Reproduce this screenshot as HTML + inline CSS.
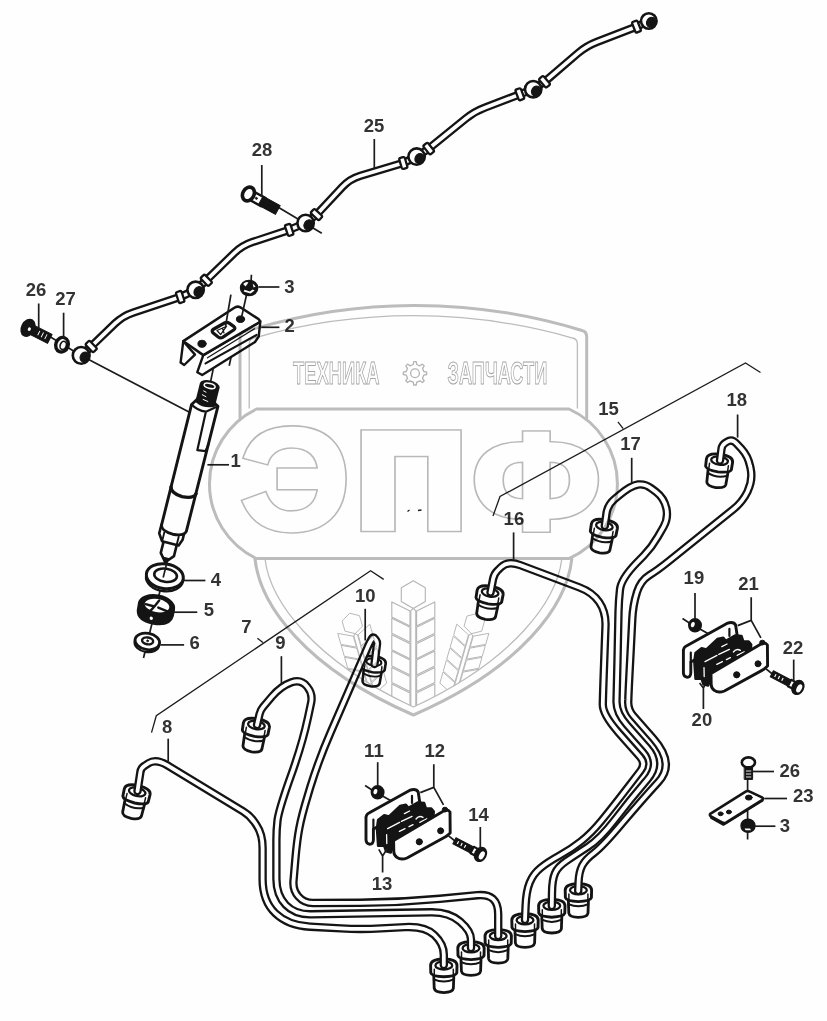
<!DOCTYPE html>
<html lang="ru"><head><meta charset="utf-8"><title>Схема</title>
<style>
html,body{margin:0;padding:0;background:#fefefe;}
body{width:827px;height:1021px;overflow:hidden;font-family:"Liberation Sans",sans-serif;}
svg{display:block;position:absolute;left:0;top:0;}
text{font-family:"Liberation Sans",sans-serif;font-weight:bold;}
.wm{fill:none;stroke:#bdbdbd;stroke-linejoin:round;stroke-linecap:round;}
.k{fill:none;stroke:#141414;stroke-linecap:round;stroke-linejoin:round;}
.kw{fill:#fefefe;stroke:#141414;stroke-linecap:round;stroke-linejoin:round;}
.kf{fill:#141414;stroke:#141414;stroke-linecap:round;stroke-linejoin:round;}
.to{fill:none;stroke:#141414;stroke-linecap:round;stroke-linejoin:round;}
.ti{fill:none;stroke:#fefefe;stroke-linecap:round;stroke-linejoin:round;}
.ld{fill:none;stroke:#1c1c1c;stroke-width:1.7;stroke-linecap:butt;}
.th{fill:none;stroke:#1c1c1c;stroke-width:1.3;}
.n{font-size:18.5px;fill:#333;text-anchor:middle;}
</style></head><body>
<svg width="827" height="1021" viewBox="0 0 827 1021" role="img" aria-label="Схема">
<path class="th" d="M151.5,732.6 L156.3,715.7 L370.6,570.7 L383.7,579.4"/>
<path class="th" d="M257.4,638.2 L262.9,642.5"/>
<path class="th" d="M493,516 L500,496.5 L745.5,363 L760.5,372.5"/>
<path class="th" d="M617.9,421.9 L623.2,428.6"/>
<path class="th" stroke-width="0.9" d="M407.5,511.5 L409.5,510 M418,510.5 L421.5,510"/>
<g transform="translate(137.3,791.3) rotate(13) scale(1)">
<path class="kw" stroke-width="2.8" d="M-10.2,6 L-9.6,23.5 Q-9,27.5 0,27.8 Q9,27.5 9.6,23.5 L10.2,6 Z"/>
<path class="k" stroke-width="2" d="M-10,14.5 Q0,19 10,14.5"/>
<path class="kw" stroke-width="2.9" d="M-13.2,0.5 Q-13,-5.6 0,-5.8 Q13,-5.6 13.2,0.5 L13,8 Q12,11.5 0,12 Q-12,11.5 -13,8 Z"/>
<path class="k" stroke-width="1.5" d="M-9.5,4.5 L-9.5,10.8 M9.5,4.5 L9.5,10.8"/>
<ellipse class="kw" stroke-width="2.3" cx="0" cy="0.6" rx="8.4" ry="4.1"/>
</g>
<g transform="translate(256.5,724.5) rotate(10) scale(1)">
<path class="kw" stroke-width="2.8" d="M-10.2,6 L-9.6,23.5 Q-9,27.5 0,27.8 Q9,27.5 9.6,23.5 L10.2,6 Z"/>
<path class="k" stroke-width="2" d="M-10,14.5 Q0,19 10,14.5"/>
<path class="kw" stroke-width="2.9" d="M-13.2,0.5 Q-13,-5.6 0,-5.8 Q13,-5.6 13.2,0.5 L13,8 Q12,11.5 0,12 Q-12,11.5 -13,8 Z"/>
<path class="k" stroke-width="1.5" d="M-9.5,4.5 L-9.5,10.8 M9.5,4.5 L9.5,10.8"/>
<ellipse class="kw" stroke-width="2.3" cx="0" cy="0.6" rx="8.4" ry="4.1"/>
</g>
<g transform="translate(374,661.5) rotate(8) scale(0.9)">
<path class="kw" stroke-width="2.8" d="M-10.2,6 L-9.6,23.5 Q-9,27.5 0,27.8 Q9,27.5 9.6,23.5 L10.2,6 Z"/>
<path class="k" stroke-width="2" d="M-10,14.5 Q0,19 10,14.5"/>
<path class="kw" stroke-width="2.9" d="M-13.2,0.5 Q-13,-5.6 0,-5.8 Q13,-5.6 13.2,0.5 L13,8 Q12,11.5 0,12 Q-12,11.5 -13,8 Z"/>
<path class="k" stroke-width="1.5" d="M-9.5,4.5 L-9.5,10.8 M9.5,4.5 L9.5,10.8"/>
<ellipse class="kw" stroke-width="2.3" cx="0" cy="0.6" rx="8.4" ry="4.1"/>
</g>
<g transform="translate(443.8,964.8) rotate(0) scale(1)">
<path class="kw" stroke-width="2.8" d="M-10.2,6 L-9.6,23.5 Q-9,27.5 0,27.8 Q9,27.5 9.6,23.5 L10.2,6 Z"/>
<path class="k" stroke-width="2" d="M-10,14.5 Q0,19 10,14.5"/>
<path class="kw" stroke-width="2.9" d="M-13.2,0.5 Q-13,-5.6 0,-5.8 Q13,-5.6 13.2,0.5 L13,8 Q12,11.5 0,12 Q-12,11.5 -13,8 Z"/>
<path class="k" stroke-width="1.5" d="M-9.5,4.5 L-9.5,10.8 M9.5,4.5 L9.5,10.8"/>
<ellipse class="kw" stroke-width="2.3" cx="0" cy="0.6" rx="8.4" ry="4.1"/>
</g>
<g transform="translate(471,947.6) rotate(0) scale(1)">
<path class="kw" stroke-width="2.8" d="M-10.2,6 L-9.6,23.5 Q-9,27.5 0,27.8 Q9,27.5 9.6,23.5 L10.2,6 Z"/>
<path class="k" stroke-width="2" d="M-10,14.5 Q0,19 10,14.5"/>
<path class="kw" stroke-width="2.9" d="M-13.2,0.5 Q-13,-5.6 0,-5.8 Q13,-5.6 13.2,0.5 L13,8 Q12,11.5 0,12 Q-12,11.5 -13,8 Z"/>
<path class="k" stroke-width="1.5" d="M-9.5,4.5 L-9.5,10.8 M9.5,4.5 L9.5,10.8"/>
<ellipse class="kw" stroke-width="2.3" cx="0" cy="0.6" rx="8.4" ry="4.1"/>
</g>
<g transform="translate(498.2,935.4) rotate(0) scale(1)">
<path class="kw" stroke-width="2.8" d="M-10.2,6 L-9.6,23.5 Q-9,27.5 0,27.8 Q9,27.5 9.6,23.5 L10.2,6 Z"/>
<path class="k" stroke-width="2" d="M-10,14.5 Q0,19 10,14.5"/>
<path class="kw" stroke-width="2.9" d="M-13.2,0.5 Q-13,-5.6 0,-5.8 Q13,-5.6 13.2,0.5 L13,8 Q12,11.5 0,12 Q-12,11.5 -13,8 Z"/>
<path class="k" stroke-width="1.5" d="M-9.5,4.5 L-9.5,10.8 M9.5,4.5 L9.5,10.8"/>
<ellipse class="kw" stroke-width="2.3" cx="0" cy="0.6" rx="8.4" ry="4.1"/>
</g>
<path class="to" stroke-width="8.4" d="M137.5,791 L140.4,772 Q141,768 144.4,765.9 L148.5,763.2 Q156,758.5 167.1,765.2 L243.2,811.4 Q250,815.5 254.5,822.1 L256.3,824.8 Q262.6,834 262.6,848 L262.6,879 Q262.6,901 275.3,913.2 L275.3,913.2 Q288,925.5 310,926.7 L341,928.4 Q361,929.5 381,928.4 L405,927.1 Q425,926 434.4,935 L434.4,935 Q443.8,944 443.8,954.5 L443.8,965"/>
<path class="ti" stroke-width="3.8" d="M137.5,791 L140.4,772 Q141,768 144.4,765.9 L148.5,763.2 Q156,758.5 167.1,765.2 L243.2,811.4 Q250,815.5 254.5,822.1 L256.3,824.8 Q262.6,834 262.6,848 L262.6,879 Q262.6,901 275.3,913.2 L275.3,913.2 Q288,925.5 310,926.7 L341,928.4 Q361,929.5 381,928.4 L405,927.1 Q425,926 434.4,935 L434.4,935 Q443.8,944 443.8,954.5 L443.8,965"/>
<path class="to" stroke-width="8.4" d="M257,725 L259.6,713.9 Q260.5,710 263.1,707 L271.9,696.6 Q281,686 291,682.5 L291.6,682.3 Q301,679 307,686.5 L307.4,687 Q313,694 311.1,702.8 L308,717.5 Q303,741 293.2,769.3 L288.5,782.7 Q278.7,811 277.5,820.5 L277.5,820.5 Q276.4,830 276.4,840 L276.4,879 Q276.4,895 285.7,904.8 L285.7,904.8 Q295,914.6 311,914.3 L431,912.3 Q449,912 460,921.5 L460,921.5 Q471,931 471,939.5 L471,948"/>
<path class="ti" stroke-width="3.8" d="M257,725 L259.6,713.9 Q260.5,710 263.1,707 L271.9,696.6 Q281,686 291,682.5 L291.6,682.3 Q301,679 307,686.5 L307.4,687 Q313,694 311.1,702.8 L308,717.5 Q303,741 293.2,769.3 L288.5,782.7 Q278.7,811 277.5,820.5 L277.5,820.5 Q276.4,830 276.4,840 L276.4,879 Q276.4,895 285.7,904.8 L285.7,904.8 Q295,914.6 311,914.3 L431,912.3 Q449,912 460,921.5 L460,921.5 Q471,931 471,939.5 L471,948"/>
<path class="to" stroke-width="8.4" d="M374.5,664 L377,644 Q377.2,642 376.1,640.4 L375,638.8 Q373.2,636.2 371.7,639 L370.4,641.4 Q369,644 367.8,646.8 L330.6,732.5 Q318.6,760 310.1,787.8 L307.5,796.5 Q301.7,815.6 299.4,827.8 L299.4,827.8 Q297,840 295.3,859.9 L293.5,881 Q292.7,890 298.4,896.5 L298.4,896.5 Q304,903 313,903 L360,902.8 Q400,902.6 439.8,898.8 L477.3,895.2 Q498.2,893.2 498.2,914.2 L498.2,936"/>
<path class="ti" stroke-width="3.8" d="M374.5,664 L377,644 Q377.2,642 376.1,640.4 L375,638.8 Q373.2,636.2 371.7,639 L370.4,641.4 Q369,644 367.8,646.8 L330.6,732.5 Q318.6,760 310.1,787.8 L307.5,796.5 Q301.7,815.6 299.4,827.8 L299.4,827.8 Q297,840 295.3,859.9 L293.5,881 Q292.7,890 298.4,896.5 L298.4,896.5 Q304,903 313,903 L360,902.8 Q400,902.6 439.8,898.8 L477.3,895.2 Q498.2,893.2 498.2,914.2 L498.2,936"/>
<g transform="translate(490.2,592) rotate(10) scale(1)">
<path class="kw" stroke-width="2.8" d="M-10.2,6 L-9.6,23.5 Q-9,27.5 0,27.8 Q9,27.5 9.6,23.5 L10.2,6 Z"/>
<path class="k" stroke-width="2" d="M-10,14.5 Q0,19 10,14.5"/>
<path class="kw" stroke-width="2.9" d="M-13.2,0.5 Q-13,-5.6 0,-5.8 Q13,-5.6 13.2,0.5 L13,8 Q12,11.5 0,12 Q-12,11.5 -13,8 Z"/>
<path class="k" stroke-width="1.5" d="M-9.5,4.5 L-9.5,10.8 M9.5,4.5 L9.5,10.8"/>
<ellipse class="kw" stroke-width="2.3" cx="0" cy="0.6" rx="8.4" ry="4.1"/>
</g>
<g transform="translate(604.5,525.5) rotate(10) scale(1)">
<path class="kw" stroke-width="2.8" d="M-10.2,6 L-9.6,23.5 Q-9,27.5 0,27.8 Q9,27.5 9.6,23.5 L10.2,6 Z"/>
<path class="k" stroke-width="2" d="M-10,14.5 Q0,19 10,14.5"/>
<path class="kw" stroke-width="2.9" d="M-13.2,0.5 Q-13,-5.6 0,-5.8 Q13,-5.6 13.2,0.5 L13,8 Q12,11.5 0,12 Q-12,11.5 -13,8 Z"/>
<path class="k" stroke-width="1.5" d="M-9.5,4.5 L-9.5,10.8 M9.5,4.5 L9.5,10.8"/>
<ellipse class="kw" stroke-width="2.3" cx="0" cy="0.6" rx="8.4" ry="4.1"/>
</g>
<g transform="translate(719.6,460) rotate(8) scale(1)">
<path class="kw" stroke-width="2.8" d="M-10.2,6 L-9.6,23.5 Q-9,27.5 0,27.8 Q9,27.5 9.6,23.5 L10.2,6 Z"/>
<path class="k" stroke-width="2" d="M-10,14.5 Q0,19 10,14.5"/>
<path class="kw" stroke-width="2.9" d="M-13.2,0.5 Q-13,-5.6 0,-5.8 Q13,-5.6 13.2,0.5 L13,8 Q12,11.5 0,12 Q-12,11.5 -13,8 Z"/>
<path class="k" stroke-width="1.5" d="M-9.5,4.5 L-9.5,10.8 M9.5,4.5 L9.5,10.8"/>
<ellipse class="kw" stroke-width="2.3" cx="0" cy="0.6" rx="8.4" ry="4.1"/>
</g>
<g transform="translate(525,919.6) rotate(0) scale(1)">
<path class="kw" stroke-width="2.8" d="M-10.2,6 L-9.6,23.5 Q-9,27.5 0,27.8 Q9,27.5 9.6,23.5 L10.2,6 Z"/>
<path class="k" stroke-width="2" d="M-10,14.5 Q0,19 10,14.5"/>
<path class="kw" stroke-width="2.9" d="M-13.2,0.5 Q-13,-5.6 0,-5.8 Q13,-5.6 13.2,0.5 L13,8 Q12,11.5 0,12 Q-12,11.5 -13,8 Z"/>
<path class="k" stroke-width="1.5" d="M-9.5,4.5 L-9.5,10.8 M9.5,4.5 L9.5,10.8"/>
<ellipse class="kw" stroke-width="2.3" cx="0" cy="0.6" rx="8.4" ry="4.1"/>
</g>
<g transform="translate(551.8,905.2) rotate(0) scale(1)">
<path class="kw" stroke-width="2.8" d="M-10.2,6 L-9.6,23.5 Q-9,27.5 0,27.8 Q9,27.5 9.6,23.5 L10.2,6 Z"/>
<path class="k" stroke-width="2" d="M-10,14.5 Q0,19 10,14.5"/>
<path class="kw" stroke-width="2.9" d="M-13.2,0.5 Q-13,-5.6 0,-5.8 Q13,-5.6 13.2,0.5 L13,8 Q12,11.5 0,12 Q-12,11.5 -13,8 Z"/>
<path class="k" stroke-width="1.5" d="M-9.5,4.5 L-9.5,10.8 M9.5,4.5 L9.5,10.8"/>
<ellipse class="kw" stroke-width="2.3" cx="0" cy="0.6" rx="8.4" ry="4.1"/>
</g>
<g transform="translate(578.4,889.6) rotate(0) scale(1)">
<path class="kw" stroke-width="2.8" d="M-10.2,6 L-9.6,23.5 Q-9,27.5 0,27.8 Q9,27.5 9.6,23.5 L10.2,6 Z"/>
<path class="k" stroke-width="2" d="M-10,14.5 Q0,19 10,14.5"/>
<path class="kw" stroke-width="2.9" d="M-13.2,0.5 Q-13,-5.6 0,-5.8 Q13,-5.6 13.2,0.5 L13,8 Q12,11.5 0,12 Q-12,11.5 -13,8 Z"/>
<path class="k" stroke-width="1.5" d="M-9.5,4.5 L-9.5,10.8 M9.5,4.5 L9.5,10.8"/>
<ellipse class="kw" stroke-width="2.3" cx="0" cy="0.6" rx="8.4" ry="4.1"/>
</g>
<path class="to" stroke-width="8.4" d="M490.5,592.5 L493.1,578.9 Q494,574 497.6,570.5 L501,567.2 Q508,560.5 520.2,565.1 L579.3,587.4 Q592.4,592.3 599.2,602.1 L599.2,602.1 Q606,612 605.5,626 L604.1,664 Q603,694 602.8,704.2 L602.8,704.2 Q602.5,714.4 618.4,732.4 L640.1,756.9 Q646.1,763.6 640.6,770.7 L629,785.8 Q612,808 601.6,820.6 L601.6,820.6 Q591.3,833.2 581.1,841.2 L581.1,841.2 Q571,849.2 559.4,855.7 L559.4,855.7 Q547.7,862.2 540.5,868 L540.5,868 Q533.2,873.9 529.7,882.6 L529.7,882.6 Q526.2,891.3 525.6,905.6 L525,920"/>
<path class="ti" stroke-width="3.8" d="M490.5,592.5 L493.1,578.9 Q494,574 497.6,570.5 L501,567.2 Q508,560.5 520.2,565.1 L579.3,587.4 Q592.4,592.3 599.2,602.1 L599.2,602.1 Q606,612 605.5,626 L604.1,664 Q603,694 602.8,704.2 L602.8,704.2 Q602.5,714.4 618.4,732.4 L640.1,756.9 Q646.1,763.6 640.6,770.7 L629,785.8 Q612,808 601.6,820.6 L601.6,820.6 Q591.3,833.2 581.1,841.2 L581.1,841.2 Q571,849.2 559.4,855.7 L559.4,855.7 Q547.7,862.2 540.5,868 L540.5,868 Q533.2,873.9 529.7,882.6 L529.7,882.6 Q526.2,891.3 525.6,905.6 L525,920"/>
<path class="to" stroke-width="8.4" d="M604.8,526 L606.4,513.9 Q607.5,505 614.4,499.3 L619.2,495.2 Q631,485.5 638,484.5 L638,484.5 Q645,483.5 651.4,488.4 L656.1,491.9 Q664,498 666.2,507.8 L666.3,508.2 Q668.5,518 663.6,526.7 L657.9,536.6 Q652,547 643.7,555.6 L636.6,562.9 Q621.3,578.7 620,589.4 L620,589.4 Q618.8,600 618.5,612 L617.5,660 Q616.8,690 616.5,701.4 L616.5,701.4 Q616.2,712.7 626.8,724.7 L647.1,747.8 Q661,763.6 647.4,779.6 L645.5,781.8 Q630,800 615,819.5 L615,819.5 Q600,839 587.6,847 L587.6,847 Q575.3,855 566.6,860.8 L566.6,860.8 Q557.9,866.6 555,873.2 L555,873.2 Q552.1,879.7 552,892.9 L551.8,906"/>
<path class="ti" stroke-width="3.8" d="M604.8,526 L606.4,513.9 Q607.5,505 614.4,499.3 L619.2,495.2 Q631,485.5 638,484.5 L638,484.5 Q645,483.5 651.4,488.4 L656.1,491.9 Q664,498 666.2,507.8 L666.3,508.2 Q668.5,518 663.6,526.7 L657.9,536.6 Q652,547 643.7,555.6 L636.6,562.9 Q621.3,578.7 620,589.4 L620,589.4 Q618.8,600 618.5,612 L617.5,660 Q616.8,690 616.5,701.4 L616.5,701.4 Q616.2,712.7 626.8,724.7 L647.1,747.8 Q661,763.6 647.4,779.6 L645.5,781.8 Q630,800 615,819.5 L615,819.5 Q600,839 587.6,847 L587.6,847 Q575.3,855 566.6,860.8 L566.6,860.8 Q557.9,866.6 555,873.2 L555,873.2 Q552.1,879.7 552,892.9 L551.8,906"/>
<path class="to" stroke-width="8.4" d="M720,460.5 L721.5,449 Q722,445 725.4,442.8 L727,441.8 Q732,438.5 736.7,443.7 L741.3,448.6 Q748,456 750,465.8 L750.6,468.3 Q753,480 747.8,490.8 L747.7,491.2 Q742.5,502 733.1,509.5 L668.7,561.2 Q657.8,570 649.2,575.3 L649.2,575.3 Q640.6,580.6 637,592.1 L636.8,592.8 Q633,605 632.3,619 L630.2,660 Q628.6,690 628.3,699.9 L628.2,701.7 Q628,709.7 633.3,715.7 L653.5,738.8 Q675.2,763.6 658.5,781.8 L658.5,781.8 Q641.8,800 622.3,823.1 L622.3,823.1 Q602.9,846.3 594.2,852.8 L594.2,852.8 Q585.5,859.3 582.2,865.6 L582.2,865.6 Q579,872 578.6,881.5 L578.2,891"/>
<path class="ti" stroke-width="3.8" d="M720,460.5 L721.5,449 Q722,445 725.4,442.8 L727,441.8 Q732,438.5 736.7,443.7 L741.3,448.6 Q748,456 750,465.8 L750.6,468.3 Q753,480 747.8,490.8 L747.7,491.2 Q742.5,502 733.1,509.5 L668.7,561.2 Q657.8,570 649.2,575.3 L649.2,575.3 Q640.6,580.6 637,592.1 L636.8,592.8 Q633,605 632.3,619 L630.2,660 Q628.6,690 628.3,699.9 L628.2,701.7 Q628,709.7 633.3,715.7 L653.5,738.8 Q675.2,763.6 658.5,781.8 L658.5,781.8 Q641.8,800 622.3,823.1 L622.3,823.1 Q602.9,846.3 594.2,852.8 L594.2,852.8 Q585.5,859.3 582.2,865.6 L582.2,865.6 Q579,872 578.6,881.5 L578.2,891"/>
<path class="ld" stroke-width="1.5" d="M48,335.5 L81,355.5 L189,412"/>
<path class="ld" stroke-width="1.5" d="M277,206.5 L321.8,233.2"/>
<path class="to" stroke-width="8.4" d="M648.8,21 L637.4,26.2 Q636.5,26.6 635.6,27 L596.7,42 Q586.4,46 578,53.1 L545.3,81.2 Q544.5,81.8 543.7,82.3 L533.2,89.2"/>
<path class="ti" stroke-width="3.7" d="M648.8,21 L637.4,26.2 Q636.5,26.6 635.6,27 L596.7,42 Q586.4,46 578,53.1 L545.3,81.2 Q544.5,81.8 543.7,82.3 L533.2,89.2"/>
<path class="to" stroke-width="8.4" d="M533.2,89.2 L520.7,93.9 Q519.8,94.3 518.9,94.7 L484.8,107.7 Q474.5,111.6 465.9,118.5 L429.5,148 Q428.7,148.6 427.9,149.2 L416.6,156.6"/>
<path class="ti" stroke-width="3.7" d="M533.2,89.2 L520.7,93.9 Q519.8,94.3 518.9,94.7 L484.8,107.7 Q474.5,111.6 465.9,118.5 L429.5,148 Q428.7,148.6 427.9,149.2 L416.6,156.6"/>
<path class="to" stroke-width="8.4" d="M416.6,156.6 L404.2,162.6 Q403.3,163 402.3,163.3 L360.5,175.7 Q350,178.8 342.5,186.8 L317.2,213.9 Q316.5,214.6 315.7,215.2 L305.6,223"/>
<path class="ti" stroke-width="3.7" d="M416.6,156.6 L404.2,162.6 Q403.3,163 402.3,163.3 L360.5,175.7 Q350,178.8 342.5,186.8 L317.2,213.9 Q316.5,214.6 315.7,215.2 L305.6,223"/>
<path class="to" stroke-width="8.4" d="M305.6,223 L290.1,229.5 Q289.2,229.9 288.3,230.2 L252.4,242.1 Q242,245.6 234.1,253.3 L207,279.6 Q206.3,280.3 205.6,281 L195.6,289.8"/>
<path class="ti" stroke-width="3.7" d="M305.6,223 L290.1,229.5 Q289.2,229.9 288.3,230.2 L252.4,242.1 Q242,245.6 234.1,253.3 L207,279.6 Q206.3,280.3 205.6,281 L195.6,289.8"/>
<path class="to" stroke-width="8.4" d="M195.6,289.8 L181.1,296.6 Q180.2,297 179.2,297.3 L133.5,312.4 Q123,315.8 115.1,323.4 L91.9,345.8 Q91.2,346.5 90.5,347.2 L81,355.8"/>
<path class="ti" stroke-width="3.7" d="M195.6,289.8 L181.1,296.6 Q180.2,297 179.2,297.3 L133.5,312.4 Q123,315.8 115.1,323.4 L91.9,345.8 Q91.2,346.5 90.5,347.2 L81,355.8"/>
<rect class="kw" stroke-width="2.3" x="-2.9" y="-5.7" width="5.8" height="11.4" rx="1.6" transform="translate(636.5,26.6) rotate(158.8)"/>
<rect class="kw" stroke-width="2.3" x="-2.9" y="-5.7" width="5.8" height="11.4" rx="1.6" transform="translate(544.5,81.8) rotate(139.5)"/>
<rect class="kw" stroke-width="2.3" x="-2.9" y="-5.7" width="5.8" height="11.4" rx="1.6" transform="translate(519.8,94.3) rotate(159.1)"/>
<rect class="kw" stroke-width="2.3" x="-2.9" y="-5.7" width="5.8" height="11.4" rx="1.6" transform="translate(428.7,148.6) rotate(141.1)"/>
<rect class="kw" stroke-width="2.3" x="-2.9" y="-5.7" width="5.8" height="11.4" rx="1.6" transform="translate(403.3,163) rotate(163.5)"/>
<rect class="kw" stroke-width="2.3" x="-2.9" y="-5.7" width="5.8" height="11.4" rx="1.6" transform="translate(316.5,214.6) rotate(133.1)"/>
<rect class="kw" stroke-width="2.3" x="-2.9" y="-5.7" width="5.8" height="11.4" rx="1.6" transform="translate(289.2,229.9) rotate(161.6)"/>
<rect class="kw" stroke-width="2.3" x="-2.9" y="-5.7" width="5.8" height="11.4" rx="1.6" transform="translate(206.3,280.3) rotate(135.8)"/>
<rect class="kw" stroke-width="2.3" x="-2.9" y="-5.7" width="5.8" height="11.4" rx="1.6" transform="translate(180.2,297) rotate(161.8)"/>
<rect class="kw" stroke-width="2.3" x="-2.9" y="-5.7" width="5.8" height="11.4" rx="1.6" transform="translate(91.2,346.5) rotate(136)"/>
<circle class="kw" stroke-width="2.6" cx="648.8" cy="21" r="7.8"/>
<ellipse class="kf" stroke-width="1" cx="651" cy="22.2" rx="4.3" ry="5.2" transform="rotate(30 651 22.2)"/>
<circle class="kw" stroke-width="2.6" cx="533.2" cy="89.2" r="8.2"/>
<ellipse class="kf" stroke-width="1" cx="536" cy="91" rx="4.3" ry="5.2" transform="rotate(30 536 91)"/>
<circle class="kw" stroke-width="2.6" cx="416.6" cy="156.6" r="8.2"/>
<ellipse class="kf" stroke-width="1" cx="419.4" cy="158.4" rx="4.3" ry="5.2" transform="rotate(30 419.4 158.4)"/>
<circle class="kw" stroke-width="2.6" cx="305.6" cy="223" r="8.2"/>
<ellipse class="kf" stroke-width="1" cx="308.4" cy="224.8" rx="4.3" ry="5.2" transform="rotate(30 308.4 224.8)"/>
<circle class="kw" stroke-width="2.6" cx="195.6" cy="289.8" r="8.2"/>
<ellipse class="kf" stroke-width="1" cx="198.4" cy="291.6" rx="4.3" ry="5.2" transform="rotate(30 198.4 291.6)"/>
<circle class="kw" stroke-width="2.6" cx="81.2" cy="355.4" r="8.4"/>
<ellipse class="kf" stroke-width="1" cx="84.6" cy="357" rx="4.3" ry="5.2" transform="rotate(30 84.6 357)"/>
<g transform="translate(248.4,194) rotate(28.5)">
<path class="kw" stroke-width="2.4" d="M4,-4.6 L17,-4.6 L17,4.6 L4,4.6 Z"/>
<path class="kf" stroke-width="1" d="M14,-5 L33.5,-5 L33.5,5 L14,5 Z"/>
<ellipse class="kw" stroke-width="3.6" cx="0" cy="0" rx="5.6" ry="7.2"/>
<circle class="kf" cx="9" cy="0" r="1.1" stroke-width="0.6"/>
</g>
<g transform="translate(28,327.8) rotate(27)">
<path class="kf" stroke-width="1" d="M4,-5 L24.5,-5 L24.5,5 L4,5 Z"/>
<ellipse class="kf" stroke-width="2" cx="0" cy="0" rx="6" ry="8.6"/>
<ellipse cx="1.8" cy="0.6" rx="1.5" ry="1.9" fill="#fefefe"/>
<path d="M12,-2.6 L12,2.2 M16,-2.8 L16,2.4 M20,-2.8 L20,2.4" stroke="#fefefe" stroke-width="0.9" fill="none"/>
</g>
<ellipse class="kw" stroke-width="3.4" cx="62" cy="344.7" rx="6.2" ry="7.4" transform="rotate(20 62 344.7)"/>
<ellipse class="k" stroke-width="1.6" cx="63.2" cy="345.4" rx="3" ry="4.2" transform="rotate(20 63.2 345.4)"/>
<path class="ld" stroke-width="1.5" d="M231.2,356.5 L229.2,365.8 M213.2,369.1 L210.2,383.5"/>
<path class="kw" stroke-width="2.4" d="M183.3,341.2 L180.6,362.6 L184.2,365 L195,354.6 Z"/>
<path class="kw" stroke-width="2.4" d="M203.3,355.1 L260.4,321.2 L258.7,336.5 L255,342 L202.2,375 L197.3,372.2 Z"/>
<path class="k" stroke-width="2.2" d="M205.6,363.4 L256.6,335"/>
<path class="k" stroke-width="1.3" d="M207.5,357.8 L254.5,328.8"/>
<path class="kw" stroke-width="2.6" d="M183.3,341.2 L234,308 Q237.8,305.4 241.5,308 L258.4,319 Q261,321 258.5,322.8 L203.3,355.1 Z"/>
<ellipse class="kf" stroke-width="1" cx="240.5" cy="319.2" rx="4.1" ry="3.3"/>
<ellipse class="kf" stroke-width="1" cx="202" cy="343.8" rx="4.1" ry="3.5"/>
<path class="kw" stroke-width="3.2" d="M213,329.5 L224.5,323 Q227,321.8 229.5,323.4 L234,326.6 Q236,328.4 233.6,330 L222.6,337.4 Q220.4,338.6 218.2,337 L213.2,333 Q211.2,331 213,329.5 Z"/>
<path class="k" stroke-width="1.2" d="M217,330.5 L226.6,326.2 L220.6,334.6 Z M222.4,328 L224,333"/>
<path class="ld" stroke-width="1.6" d="M251.4,274.7 L251.1,281 M246.5,295 L241.6,317 M230.9,294.6 L225.6,326"/>
<ellipse class="kf" stroke-width="1.4" cx="249.1" cy="288" rx="8.6" ry="7.6"/>
<path d="M243.6,291.6 L250.6,293.6 L254.6,290.6 L252.6,289.6 L249.8,291.6 L244.6,289.8 Z" fill="#fefefe"/>
<path d="M243.2,284 Q246,281.2 248.4,282.4 L245.6,286.6 Z" fill="#fefefe"/>
<path d="M252.6,283.6 L255.6,286.4 L253.6,287.6 Z" fill="#fefefe"/>
<path class="ld" d="M258.3,287 L279.4,287"/>
<path class="ld" d="M261.2,327.3 L279.4,327.3"/>
<path class="ld" stroke-width="1.5" d="M168.6,556 L143.5,658"/>
<g transform="translate(209.3,387.2) rotate(14)">
<path class="kw" stroke-width="2.6" d="M-7,158 L-7,172.5 L-0.5,180.5 L6.6,172.5 L6.6,158 Z"/>
<path class="kf" stroke-width="1" d="M-3.4,176 L-0.5,180.5 L3,176 Z"/>
<path class="kw" stroke-width="2.6" d="M-13.2,145 L-13.2,154 L-8.5,161 L8.5,161 L11,154.5 L11,145 Z"/>
<path class="k" stroke-width="1.9" d="M-8.5,151.5 L-8.5,160.5 M6.5,152.5 L6.5,160.5"/>
<path class="kw" stroke-width="2.9" d="M-13,21 L-13,145.5 Q-12,150.8 0,151.5 Q11.5,150.8 12.6,145.5 L13,16.5 L8.5,14 L-8.5,14 Z"/>
<path class="k" stroke-width="3.4" d="M-13,106 Q-12,112.2 0,112.8 Q12,112.2 13,106.5"/>
<path class="k" stroke-width="2.2" d="M-13,21 Q-6,25.5 2.6,24.6 L13,16.5 M2.6,24.6 L3.6,64 L11.8,63 L13,56"/>
<path class="kf" stroke-width="1.8" d="M-9.2,-1.5 L-9.2,17 Q0,21.5 9.2,17 L9.2,-1.5 Z"/>
<path d="M-5,9 L-1,10 M-3,13.4 L2,14.2 M-4.6,5 L-2,5.6" stroke="#fefefe" stroke-width="0.9" fill="none" stroke-linecap="round"/>
<ellipse class="kf" stroke-width="1.8" cx="0" cy="-1.6" rx="9.2" ry="4.4"/>
<ellipse cx="0" cy="-1.4" rx="5.6" ry="2.5" fill="none" stroke="#fefefe" stroke-width="1.5"/>
</g>
<path class="ld" d="M207.4,464.8 L229,464.8"/>
<g transform="rotate(8 164.8 576.6)">
<ellipse class="kw" stroke-width="2.4" cx="164.8" cy="578.6" rx="18.6" ry="12.6"/>
<ellipse class="kw" stroke-width="3" cx="164.8" cy="576.2" rx="18.6" ry="12.4"/>
<ellipse class="kw" stroke-width="2.6" cx="165.4" cy="575.2" rx="11.4" ry="6.6"/>
</g>
<path class="ld" stroke-width="1.5" d="M166.8,563 L163.2,577.5"/>
<g transform="rotate(10 156 609)">
<path class="kf" stroke-width="2" d="M138.2,606 L138.2,613 Q139,623.6 156,624 Q173,623.6 173.8,613 L173.8,606 Z"/>
<ellipse class="kf" stroke-width="2" cx="156" cy="606" rx="17.8" ry="10.8"/>
<ellipse cx="156.4" cy="605.4" rx="12.4" ry="6.6" fill="#fefefe"/>
<path class="k" stroke-width="2.4" d="M145,606 L154,606.8 L157.6,600 M158,607.2 L167.6,609.4 M154,606.8 L151,611.5"/>
<circle cx="153" cy="619" r="1.7" fill="#fefefe"/>
</g>
<g transform="rotate(10 147.2 642)">
<ellipse class="kw" stroke-width="2.2" cx="147.2" cy="643.8" rx="12.4" ry="8.2"/>
<ellipse class="kw" stroke-width="2.8" cx="147.2" cy="641.4" rx="12.4" ry="8.2"/>
<ellipse class="kw" stroke-width="2.4" cx="147.4" cy="640.8" rx="5.6" ry="3.4"/>
<circle class="kf" cx="147.4" cy="640.8" r="1" stroke-width="0.6"/>
</g>
<path class="ld" d="M183.9,580.5 L205.4,580.5"/>
<path class="ld" d="M173.6,612.2 L197.3,612.2"/>
<path class="ld" d="M160.4,644.9 L184.1,644.9"/>
<g transform="translate(0,0)">
<path class="ld" stroke-width="1.4" d="M365.1,785.5 L372,790 M381.6,795.4 L390.5,800.6"/>
<ellipse class="kf" stroke-width="2" cx="377.6" cy="792.3" rx="6" ry="6.2"/>
<ellipse cx="375.4" cy="791.6" rx="1.9" ry="2.7" fill="#fefefe" transform="rotate(20 375.4 791.6)"/>
<path class="ld" d="M433.8,764.2 L433.8,787.4 L420.3,792.6 M433.8,787.4 L443.5,804.8"/>
<path class="kw" stroke-width="2.9" d="M366,819 Q365.6,814.6 369.4,812.8 L409.5,790.4 Q416,788 418.2,792 L420,804 L373.4,829 L373.4,840 Q373.2,844.2 369.8,844.2 Q366.2,844 366,840 Z"/>
<path class="k" stroke-width="2.2" d="M373.4,829 L373.4,819.5 M412,795.8 L412,803"/>
<path class="kf" stroke-width="2.4" d="M378.1,819.9 L384.2,815.1 L389,816.3 L399.9,806 L405.9,804.8 L408.4,807.8 L418,802.4 L424.1,803 L425.9,808.4 L431.3,808.4 L433.8,811.4 L433.2,819.9 L396.3,839.3 L392.6,847.7 L390.8,852.6 L386,851.3 L384.2,845.9 L378.1,845.9 L376.9,828.4 Z"/>
<path d="M387.6,828.6 L399.6,822.4 M401.4,821.4 L412,816.4 M386.6,834.6 L386.8,843.6 M399.4,831.4 L405,828.6 M409,826.6 L413,824.6 M416,819 Q419,815 423,817.4 M404.4,813.6 L409.6,811 M419.8,822.4 L426.8,818.8" stroke="#fefefe" stroke-width="1.3" fill="none" stroke-linecap="round"/>
<path class="kw" stroke-width="2.9" d="M393.6,840.6 L443.6,811 Q447.6,808.4 450,812 L450.2,833 L446,836.6 L407,858 Q401,860.4 397,857.4 Q393.8,855.4 393.8,851.6 Z"/>
<ellipse class="kf" stroke-width="1" cx="445" cy="809.6" rx="2.7" ry="2.4"/>
<circle class="kf" cx="419.3" cy="841.8" r="3.1" stroke-width="1"/>
<circle class="kf" cx="440.6" cy="830.8" r="3" stroke-width="1"/>
<path class="ld" stroke-width="1.4" d="M447.4,834.8 L455,841"/>
<g transform="translate(454.4,840.8) rotate(27.5)">
<path class="kf" stroke-width="1" d="M0,-3.4 L21,-3.4 L21,3.4 L0,3.4 Z"/>
<path d="M4,-1.6 L4,1.6 M8,-1.6 L8,1.6 M12,-1.6 L12,1.6" stroke="#fefefe" stroke-width="1.2" fill="none"/>
<path class="kw" stroke-width="2.2" d="M20,-3.6 L25,-3.6 L25,3.6 L20,3.6 Z"/>
<ellipse class="kf" stroke-width="2" cx="29.4" cy="0" rx="5.4" ry="7"/>
<ellipse cx="31" cy="0.2" rx="2.5" ry="4.4" fill="#fefefe"/>
</g>
</g>
<path class="ld" stroke-width="1.6" d="M378.8,849.4 L382.6,856 L387.4,848.4 M382.6,856 L382.6,872.5"/>
<path class="ld" stroke-width="1.6" d="M699.6,683 L703.4,688 L706.8,680.6 M703.4,688 L703.4,709"/>
<g transform="translate(317.4,-167)">
<path class="ld" stroke-width="1.4" d="M365.1,785.5 L372,790 M381.6,795.4 L390.5,800.6"/>
<ellipse class="kf" stroke-width="2" cx="377.6" cy="792.3" rx="6" ry="6.2"/>
<ellipse cx="375.4" cy="791.6" rx="1.9" ry="2.7" fill="#fefefe" transform="rotate(20 375.4 791.6)"/>
<path class="ld" d="M433.8,764.2 L433.8,787.4 L420.3,792.6 M433.8,787.4 L443.5,804.8"/>
<path class="kw" stroke-width="2.9" d="M366,819 Q365.6,814.6 369.4,812.8 L409.5,790.4 Q416,788 418.2,792 L420,804 L373.4,829 L373.4,840 Q373.2,844.2 369.8,844.2 Q366.2,844 366,840 Z"/>
<path class="k" stroke-width="2.2" d="M373.4,829 L373.4,819.5 M412,795.8 L412,803"/>
<path class="kf" stroke-width="2.4" d="M378.1,819.9 L384.2,815.1 L389,816.3 L399.9,806 L405.9,804.8 L408.4,807.8 L418,802.4 L424.1,803 L425.9,808.4 L431.3,808.4 L433.8,811.4 L433.2,819.9 L396.3,839.3 L392.6,847.7 L390.8,852.6 L386,851.3 L384.2,845.9 L378.1,845.9 L376.9,828.4 Z"/>
<path d="M387.6,828.6 L399.6,822.4 M401.4,821.4 L412,816.4 M386.6,834.6 L386.8,843.6 M399.4,831.4 L405,828.6 M409,826.6 L413,824.6 M416,819 Q419,815 423,817.4 M404.4,813.6 L409.6,811 M419.8,822.4 L426.8,818.8" stroke="#fefefe" stroke-width="1.3" fill="none" stroke-linecap="round"/>
<path class="kw" stroke-width="2.9" d="M393.6,840.6 L443.6,811 Q447.6,808.4 450,812 L450.2,833 L446,836.6 L407,858 Q401,860.4 397,857.4 Q393.8,855.4 393.8,851.6 Z"/>
<ellipse class="kf" stroke-width="1" cx="445" cy="809.6" rx="2.7" ry="2.4"/>
<circle class="kf" cx="419.3" cy="841.8" r="3.1" stroke-width="1"/>
<circle class="kf" cx="440.6" cy="830.8" r="3" stroke-width="1"/>
<path class="ld" stroke-width="1.4" d="M447.4,834.8 L455,841"/>
<g transform="translate(454.4,840.8) rotate(27.5)">
<path class="kf" stroke-width="1" d="M0,-3.4 L21,-3.4 L21,3.4 L0,3.4 Z"/>
<path d="M4,-1.6 L4,1.6 M8,-1.6 L8,1.6 M12,-1.6 L12,1.6" stroke="#fefefe" stroke-width="1.2" fill="none"/>
<path class="kw" stroke-width="2.2" d="M20,-3.6 L25,-3.6 L25,3.6 L20,3.6 Z"/>
<ellipse class="kf" stroke-width="2" cx="29.4" cy="0" rx="5.4" ry="7"/>
<ellipse cx="31" cy="0.2" rx="2.5" ry="4.4" fill="#fefefe"/>
</g>
</g>
<path class="ld" d="M377.7,762.2 L377.7,786"/>
<path class="ld" d="M480.3,827 L480.3,848.5"/>
<path class="ld" d="M695,592.9 L695,619.5"/>
<path class="ld" d="M793.7,659.6 L793.7,681"/>
<path class="ld" stroke-width="1.5" d="M747.6,779 L747.6,790 M747.6,810.4 L747.6,819.5 M747.6,832.8 L747.6,839.6"/>
<path class="kw" stroke-width="2.6" d="M710.6,813.6 L745.6,791.6 Q747.6,790.4 749.8,791.6 L762,797.4 Q763.8,798.6 762,800 L726,822.6 Q724,823.6 722,822.4 L711,816.4 Q709,815 710.6,813.6 Z"/>
<path class="k" stroke-width="2" d="M711,817.8 L723.4,824.8 L762.6,800.6"/>
<ellipse class="kf" stroke-width="1" cx="748.8" cy="797.6" rx="3.4" ry="2.5"/>
<ellipse class="kf" stroke-width="1" cx="720.6" cy="813.8" rx="2.5" ry="1.9"/>
<ellipse class="kf" stroke-width="1" cx="728.9" cy="812" rx="2.5" ry="1.9"/>
<path class="kf" stroke-width="1" d="M744.6,767 L752.6,767 L752.6,779.4 L744.6,779.4 Z"/>
<path d="M746,771 L751.2,771 M746,774 L751.2,774 M746,777 L751.2,777" stroke="#fefefe" stroke-width="0.9" fill="none"/>
<ellipse class="kw" stroke-width="2.6" cx="748.4" cy="762.4" rx="6.6" ry="5"/>
<ellipse class="kf" stroke-width="1.4" cx="748" cy="825.8" rx="7" ry="6.6"/>
<path d="M744.6,828.4 L750,828.4 L751,830.2 L745.6,830.2 Z" fill="#fefefe"/>
<path class="ld" d="M752.6,771.5 L774,771.5"/>
<path class="ld" d="M764.2,798.5 L787,798.5"/>
<path class="ld" d="M755,826.2 L775.4,826.2"/>
<path class="ld" d="M168.2,738.7 L168.2,761"/>
<path class="ld" d="M281.4,656.2 L281.4,683.5"/>
<path class="ld" d="M365.2,608.8 L365.2,640.5"/>
<path class="ld" d="M513.6,532.4 L513.6,559.5"/>
<path class="ld" d="M631.7,457.8 L631.7,483.3"/>
<path class="ld" d="M737.6,414.5 L737.6,437.6"/>
<path class="ld" d="M374.3,139 L374.3,168.5"/>
<path class="ld" d="M261.8,165 L261.8,197"/>
<path class="ld" d="M38.7,303.5 L38.7,329"/>
<path class="ld" d="M63.6,312.7 L63.6,338"/>
<text class="n" x="374" y="132.4">25</text>
<text class="n" x="262" y="156.3">28</text>
<text class="n" x="289.4" y="293">3</text>
<text class="n" x="289.7" y="332.2">2</text>
<text class="n" x="36" y="296.4">26</text>
<text class="n" x="65.5" y="304.8">27</text>
<text class="n" x="235.6" y="466.8">1</text>
<text class="n" x="215.8" y="586.2">4</text>
<text class="n" x="208.8" y="616.3">5</text>
<text class="n" x="194.6" y="649.4">6</text>
<text class="n" x="246.5" y="632.8">7</text>
<text class="n" x="280.5" y="649.1">9</text>
<text class="n" x="365.2" y="602.3">10</text>
<text class="n" x="167.2" y="732.7">8</text>
<text class="n" x="373.9" y="756.5">11</text>
<text class="n" x="434.8" y="756.5">12</text>
<text class="n" x="478.6" y="821.4">14</text>
<text class="n" x="382" y="890.1">13</text>
<text class="n" x="608.5" y="415.4">15</text>
<text class="n" x="513.9" y="524.9">16</text>
<text class="n" x="630.5" y="450">17</text>
<text class="n" x="736.8" y="406.1">18</text>
<text class="n" x="693.9" y="584.3">19</text>
<text class="n" x="748.5" y="589.5">21</text>
<text class="n" x="793" y="653.9">22</text>
<text class="n" x="701.9" y="726.1">20</text>
<text class="n" x="789.8" y="776.9">26</text>
<text class="n" x="803.2" y="802.2">23</text>
<text class="n" x="784.9" y="832.1">3</text>
<g style="mix-blend-mode:multiply">
<defs><clipPath id="shclip"><path d="M265,559 C270,600 312,660 413.4,707 C514.8,660 556.8,600 561.8,559 Z"/></clipPath></defs>
<g class="wm">
<path stroke-width="3" d="M240,418 L240,338 Q240,332.5 245,331.5 A567,567 0 0 1 582,330.5 Q586.7,331.5 586.7,337 L586.7,418"/>
<path stroke-width="1.3" d="M249.2,408 L249.2,344 Q249.2,339 254,338 A580,580 0 0 1 572.6,338 Q577.4,339 577.4,344 L577.4,408"/>
<path stroke-width="3" d="M256.5,409 L569,409 A82,82 0 0 1 569,558.6 L256.5,558.6 A83,83 0 0 1 256.5,409 Z"/>
<path stroke-width="3" d="M255,559 C260,605 305,668 413.4,715 C521.8,668 566.8,605 571.8,559"/>
<path stroke-width="1.3" d="M265,559 C270,600 312,660 413.4,707 C514.8,660 556.8,600 561.8,559"/>
<path stroke-width="1.3" stroke="#b4b4b4" d="M423.8,371.5 L426.7,372.1 L426.7,374.5 L423.8,375.1 L422.5,378.3 L424.2,380.7 L422.4,382.5 L420,380.8 L416.8,382.1 L416.2,385 L413.8,385 L413.2,382.1 L410,380.8 L407.6,382.5 L405.8,380.7 L407.5,378.3 L406.2,375.1 L403.3,374.5 L403.3,372.1 L406.2,371.5 L407.5,368.3 L405.8,365.9 L407.6,364.1 L410,365.8 L413.2,364.5 L413.8,361.6 L416.2,361.6 L416.8,364.5 L420,365.8 L422.4,364.1 L424.2,365.9 L422.5,368.3 Z"/>
<circle stroke-width="1.3" stroke="#b4b4b4" cx="415" cy="373.3" r="4.4"/>
<g clip-path="url(#shclip)" stroke="#b6b6b6" stroke-width="1.15">
<g transform="translate(413.3,594.6)"><path d="M0,-13.8 L-12,-6.9 L-12,6.9 L-0,13.8 L12,6.9 L12,-6.9 Z"/>
<path d="M-2.5,16.3 L-2.5,111.7 M2.5,16.3 L2.5,111.7 M0,13.8 L-2.5,16.3 M0,13.8 L2.5,16.3"/>
<path d="M-21.5,7.3 L-3.3,16.3 L-3.3,31.3 L-21.5,22.3 Z"/>
<path d="M21.5,7.3 L3.3,16.3 L3.3,31.3 L21.5,22.3 Z"/>
<path d="M-21.5,23.7 L-3.3,32.7 L-3.3,47.7 L-21.5,38.7 Z"/>
<path d="M21.5,23.7 L3.3,32.7 L3.3,47.7 L21.5,38.7 Z"/>
<path d="M-21.5,40.1 L-3.3,49.1 L-3.3,64.1 L-21.5,55.1 Z"/>
<path d="M21.5,40.1 L3.3,49.1 L3.3,64.1 L21.5,55.1 Z"/>
<path d="M-21.5,56.5 L-3.3,65.5 L-3.3,80.5 L-21.5,71.5 Z"/>
<path d="M21.5,56.5 L3.3,65.5 L3.3,80.5 L21.5,71.5 Z"/>
<path d="M-21.5,72.9 L-3.3,81.9 L-3.3,96.9 L-21.5,87.9 Z"/>
<path d="M21.5,72.9 L3.3,81.9 L3.3,96.9 L21.5,87.9 Z"/>
<path d="M-21.5,89.3 L-3.3,98.3 L-3.3,113.3 L-21.5,104.3 Z"/>
<path d="M21.5,89.3 L3.3,98.3 L3.3,113.3 L21.5,104.3 Z"/></g>
<g transform="translate(352.3,623.6) rotate(-16) scale(0.76)"><path d="M0,-13.8 L-12,-6.9 L-12,6.9 L-0,13.8 L12,6.9 L12,-6.9 Z"/>
<path d="M-2.5,16.3 L-2.5,95.3 M2.5,16.3 L2.5,95.3 M0,13.8 L-2.5,16.3 M0,13.8 L2.5,16.3"/>
<path d="M-21.5,7.3 L-3.3,16.3 L-3.3,31.3 L-21.5,22.3 Z"/>
<path d="M21.5,7.3 L3.3,16.3 L3.3,31.3 L21.5,22.3 Z"/>
<path d="M-21.5,23.7 L-3.3,32.7 L-3.3,47.7 L-21.5,38.7 Z"/>
<path d="M21.5,23.7 L3.3,32.7 L3.3,47.7 L21.5,38.7 Z"/>
<path d="M-21.5,40.1 L-3.3,49.1 L-3.3,64.1 L-21.5,55.1 Z"/>
<path d="M21.5,40.1 L3.3,49.1 L3.3,64.1 L21.5,55.1 Z"/>
<path d="M-21.5,56.5 L-3.3,65.5 L-3.3,80.5 L-21.5,71.5 Z"/>
<path d="M21.5,56.5 L3.3,65.5 L3.3,80.5 L21.5,71.5 Z"/>
<path d="M-21.5,72.9 L-3.3,81.9 L-3.3,96.9 L-21.5,87.9 Z"/>
<path d="M21.5,72.9 L3.3,81.9 L3.3,96.9 L21.5,87.9 Z"/></g>
<g transform="translate(474.3,623.6) rotate(16) scale(0.76)"><path d="M0,-13.8 L-12,-6.9 L-12,6.9 L-0,13.8 L12,6.9 L12,-6.9 Z"/>
<path d="M-2.5,16.3 L-2.5,95.3 M2.5,16.3 L2.5,95.3 M0,13.8 L-2.5,16.3 M0,13.8 L2.5,16.3"/>
<path d="M-21.5,7.3 L-3.3,16.3 L-3.3,31.3 L-21.5,22.3 Z"/>
<path d="M21.5,7.3 L3.3,16.3 L3.3,31.3 L21.5,22.3 Z"/>
<path d="M-21.5,23.7 L-3.3,32.7 L-3.3,47.7 L-21.5,38.7 Z"/>
<path d="M21.5,23.7 L3.3,32.7 L3.3,47.7 L21.5,38.7 Z"/>
<path d="M-21.5,40.1 L-3.3,49.1 L-3.3,64.1 L-21.5,55.1 Z"/>
<path d="M21.5,40.1 L3.3,49.1 L3.3,64.1 L21.5,55.1 Z"/>
<path d="M-21.5,56.5 L-3.3,65.5 L-3.3,80.5 L-21.5,71.5 Z"/>
<path d="M21.5,56.5 L3.3,65.5 L3.3,80.5 L21.5,71.5 Z"/>
<path d="M-21.5,72.9 L-3.3,81.9 L-3.3,96.9 L-21.5,87.9 Z"/>
<path d="M21.5,72.9 L3.3,81.9 L3.3,96.9 L21.5,87.9 Z"/></g>
</g>
</g>
<g font-size="32" fill="#ffffff" stroke="#a6a6a6" stroke-width="1.05" stroke-linejoin="round">
<text x="293" y="384" textLength="86.6" lengthAdjust="spacingAndGlyphs">ТЕХНИКА</text>
<text x="447.6" y="384.4" textLength="99.6" lengthAdjust="spacingAndGlyphs">ЗАПЧАСТИ</text>
</g>
<text font-size="142.1" fill="#b9b9b9" stroke="#b9b9b9" stroke-width="7.6" stroke-linejoin="miter" stroke-miterlimit="6" transform="translate(241.5,529.4) scale(1.065,1)" vector-effect="non-scaling-stroke">Э</text>
<text font-size="130.8" fill="#b9b9b9" stroke="#b9b9b9" stroke-width="13.2" stroke-linejoin="miter" stroke-miterlimit="6" transform="translate(357.3,525.7) scale(1.1445,1)" vector-effect="non-scaling-stroke">П</text>
<text font-size="136.2" fill="#b9b9b9" stroke="#b9b9b9" stroke-width="8.6" stroke-linejoin="miter" stroke-miterlimit="6" transform="translate(472.8,527.5) scale(1.094,1)" vector-effect="non-scaling-stroke">Ф</text>
<text font-size="142.1" fill="#ffffff" stroke="#ffffff" stroke-width="4.4" stroke-linejoin="miter" stroke-miterlimit="6" transform="translate(241.5,529.4) scale(1.065,1)" vector-effect="non-scaling-stroke">Э</text>
<text font-size="130.8" fill="#ffffff" stroke="#ffffff" stroke-width="10" stroke-linejoin="miter" stroke-miterlimit="6" transform="translate(357.3,525.7) scale(1.1445,1)" vector-effect="non-scaling-stroke">П</text>
<text font-size="136.2" fill="#ffffff" stroke="#ffffff" stroke-width="5.4" stroke-linejoin="miter" stroke-miterlimit="6" transform="translate(472.8,527.5) scale(1.094,1)" vector-effect="non-scaling-stroke">Ф</text>
</g>
</svg>
</body></html>
